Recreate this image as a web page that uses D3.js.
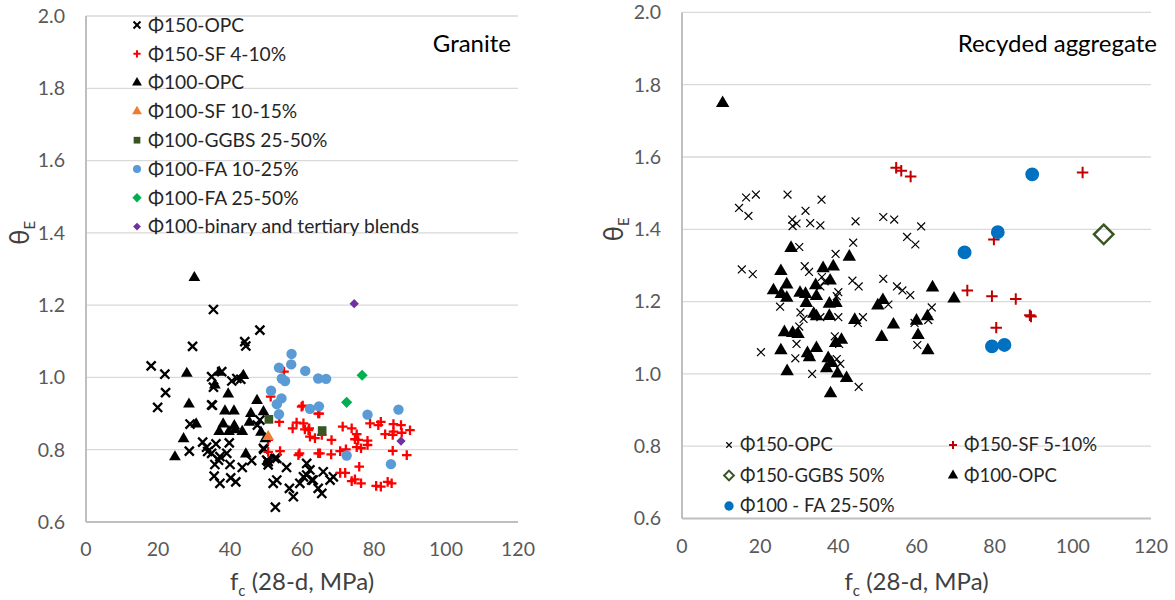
<!DOCTYPE html>
<html>
<head>
<meta charset="utf-8">
<script src="https://cdn.jsdelivr.net/npm/d3@7"></script>
<style>
  body { margin: 0; background: #fff; }
  text { font-family: Lato, "Open Sans", sans-serif; }
</style>
</head>
<body>
<div id="chart"></div>
<script>
// ---- data: [fc, thetaE] ----
var xTicks = [0, 20, 40, 60, 80, 100, 120];
var yTicks = [0.6, 0.8, 1.0, 1.2, 1.4, 1.6, 1.8, 2.0];

// Granite
var gOpc150 = [[35.4,1.188],[48.3,1.131],[29.6,1.086],[44.1,1.099],[44.4,1.087],[18.1,1.032],[21.9,1.009],
  [34.9,1.002],[35.4,0.973],[40.5,0.99],[41.9,0.997],[43,0.995],[37.7,1.016],[22.1,0.958],[19.9,0.917],
  [35.1,0.923],[28.9,0.871],[28.7,0.796],[32.4,0.821],[33.5,0.807],[33.8,0.795],[36.1,0.816],[34.9,0.79],
  [36.8,0.771],[37.2,0.781],[39.1,0.79],[35.8,0.759],[40,0.759],[43.4,0.751],[39.8,0.819],[35.6,0.727],
  [37.2,0.707],[40.2,0.722],[41.6,0.711],[46,0.77],[49.4,0.801],[50.6,0.767],[53,0.776],[55.7,0.751],
  [52.6,0.641],[52,0.707],[53,0.716],[57.6,0.67],[56.5,0.693],[59.4,0.707],[61.3,0.73],[63.1,0.716],
  [62.2,0.744],[61.3,0.762],[60.4,0.725],[62.7,0.716],[65.9,0.739],[65.5,0.679],[67.8,0.716],[68.7,0.725],
  [64.5,0.693],[50.2,0.771],[52.5,0.776],[50.6,0.758],[49.3,0.804],[48.3,0.882],[47.6,0.868],[34.9,0.924]];
var gSf150 = [[55,1.016],[51.3,0.947],[53.7,0.877],[59.9,0.919],[64.5,0.9],[57.4,0.859],[58.5,0.875],
  [60.4,0.873],[62,0.859],[62.2,0.836],[63.6,0.832],[50.6,0.827],[50.6,0.794],[53.9,0.796],[59.3,0.79],
  [64.5,0.79],[60.2,0.922],[64.8,0.9],[60.8,0.856],[61.8,0.854],[65.5,0.841],[68.2,0.827],[71.3,0.864],
  [73.8,0.859],[75.2,0.843],[74.7,0.829],[75.6,0.827],[78.2,0.825],[78.2,0.813],[75.2,0.807],[76.4,0.804],
  [78.9,0.873],[81.2,0.868],[81.9,0.877],[83.1,0.843],[85.4,0.871],[87.5,0.868],[85.4,0.85],[85.2,0.841],
  [87.7,0.847],[90,0.854],[85.2,0.797],[89.1,0.785],[65,0.79],[68.1,0.787],[70.6,0.796],[72.2,0.801],
  [75.9,0.753],[70.6,0.736],[72,0.736],[73.8,0.713],[74.7,0.718],[76.4,0.707],[80.6,0.70],[81.9,0.698],
  [83.8,0.711],[84.9,0.707],[59,0.785]];
var gOpc100 = [[30.1,1.276],[28,1.011],[37,1.014],[43.7,1.005],[35.8,0.979],[39.5,0.954],[28.6,0.926],
  [47.5,0.936],[38.6,0.907],[41.1,0.907],[45.8,0.9],[49.3,0.905],[30.6,0.871],[38.1,0.871],[41.2,0.866],
  [45.4,0.876],[37,0.85],[39.7,0.85],[43.4,0.85],[41.5,0.855],[48.6,0.848],[27.1,0.83],[24.7,0.78],
  [44.4,0.788],[49.8,0.83]];
var gSf100 = [[50.6,0.836]];
var gGgbs100 = [[50.8,0.884],[65.6,0.853]];
var gFa100a = [[57.1,1.065],[53.6,1.027],[57,1.036],[60.9,1.018],[64.5,0.997],[66.7,0.996],[54.4,0.997],
  [55.3,0.99],[51.4,0.963],[54.3,0.942],[53,0.926],[62.2,0.913],[64.7,0.92],[53.6,0.898],[78.2,0.897],
  [86.8,0.911],[72.4,0.784],[84.7,0.76]];
var gFa100b = [[76.7,1.006],[72.4,0.931]];
var gBlend100 = [[74.5,1.204],[87.5,0.824]];

// Recycled aggregate
var rOpc150 = [[14.6,1.459],[16.4,1.488],[18.9,1.496],[17,1.437],[27,1.496],[35.7,1.482],[31.6,1.451],
  [28.2,1.427],[29.3,1.416],[28.3,1.409],[32.8,1.417],[35.4,1.411],[44.4,1.422],[51.5,1.434],[54.3,1.427],
  [61.2,1.408],[57.6,1.379],[59.7,1.358],[43.8,1.363],[30,1.351],[39.3,1.332],[15.3,1.289],[18.1,1.276],
  [31.4,1.298],[32.5,1.282],[35.8,1.268],[36.5,1.256],[35.4,1.242],[43.6,1.258],[45.2,1.242],[51.5,1.263],
  [55,1.242],[56.4,1.231],[58.4,1.218],[63.9,1.184],[63,1.149],[25.1,1.186],[30.3,1.17],[31.1,1.152],
  [30,1.131],[29.3,1.083],[29,1.043],[20.2,1.06],[35.4,1.157],[39.6,1.215],[40,1.226],[40,1.157],
  [45,1.141],[46.3,1.157],[52.8,1.192],[39.1,1.104],[40.2,1.083],[39.6,1.041],[40.5,1.028],[33.3,1.0],
  [45.2,0.964],[60.2,1.08],[59.5,1.141]];
var rSf150 = [[54.8,1.57],[56.1,1.562],[58.5,1.546],[102.5,1.557],[79.8,1.372],[73,1.231],[79.3,1.215],
  [85.4,1.207],[89.3,1.159],[89,1.162],[80.4,1.128]];
var rGgbs150 = [[107.9,1.386]];
var rOpc100 = [[10.4,1.749],[27.9,1.348],[42.8,1.324],[25.3,1.284],[36.1,1.292],[38.7,1.297],[23.4,1.231],
  [26.8,1.247],[25.4,1.221],[26.8,1.21],[30.2,1.224],[31.6,1.221],[34.2,1.245],[34.4,1.215],[37.9,1.258],
  [31.8,1.196],[37.7,1.194],[39.4,1.196],[33.7,1.166],[34.4,1.159],[37.7,1.16],[44.2,1.149],[50.1,1.189],
  [51.4,1.204],[54.1,1.136],[60,1.147],[60.4,1.107],[62.8,1.159],[64.1,1.239],[69.6,1.208],[51.1,1.102],
  [62.9,1.065],[26.2,1.115],[28.3,1.113],[29.7,1.11],[25.3,1.065],[32.1,1.057],[32.6,1.046],[34.4,1.071],
  [39.3,1.085],[40.8,1.094],[37.4,1.043],[38.3,1.03],[37,1.015],[39.8,1.001],[42.1,0.988],[26.9,1.007],
  [38,0.946]];
var rFa100 = [[89.6,1.552],[80.8,1.392],[72.3,1.336],[79.3,1.076],[82.5,1.08]];

var leftNames = ["Φ150-OPC", "Φ150-SF 4-10%", "Φ100-OPC", "Φ100-SF 10-15%", "Φ100-GGBS 25-50%",
  "Φ100-FA 10-25%", "Φ100-FA 25-50%", "Φ100-binary and tertiary blends"];
var rightNames = ["Φ150-OPC", "Φ150-SF 5-10%", "Φ150-GGBS 50%", "Φ100-OPC", "Φ100 - FA 25-50%"];

var svg = d3.select("#chart").append("svg")
    .attr("width", 1175)
    .attr("height", 600);

// style per series: symbol type, size, fill, stroke
function sty(type, size, fill, stroke, sw) {
    return { type: type, size: size, fill: fill, stroke: stroke, sw: sw };
}

var leftSeries = [
    { data: gOpc150, s: sty(d3.symbolTimes, 55, "none", "#000", 2.3) },
    { data: gSf150, s: sty(d3.symbolPlus, 32, "none", "#FF0000", 2.3) },
    { data: gOpc100, s: sty(d3.symbolTriangle, 60, "#000", "none", 0) },
    { data: gSf100, s: sty(d3.symbolTriangle, 60, "#ED7D31", "none", 0) },
    { data: gGgbs100, s: sty(d3.symbolSquare, 75, "#375623", "none", 0) },
    { data: gFa100a, s: sty(d3.symbolCircle, 85, "#5B9BD5", "none", 0) },
    { data: gFa100b, s: sty(d3.symbolDiamond2, 80, "#00B050", "none", 0) },
    { data: gBlend100, s: sty(d3.symbolDiamond2, 55, "#7030A0", "none", 0) }
];

var rightSeries = [
    { data: rOpc150, s: sty(d3.symbolTimes, 42, "none", "#000", 1.2) },
    { data: rSf150, s: sty(d3.symbolPlus, 45, "none", "#C00000", 2) },
    { data: rGgbs150, s: sty(d3.symbolDiamond2, 240, "none", "#375623", 2.5) },
    { data: rOpc100, s: sty(d3.symbolTriangle, 78, "#000", "none", 0) },
    { data: rFa100, s: sty(d3.symbolCircle, 150, "#0070C0", "none", 0) }
];

function drawPanel(opt) {
    var x = d3.scaleLinear().domain([0, 120]).range([opt.x0, opt.x1]);
    var y = d3.scaleLinear().domain([0.6, 2.0]).range([opt.yb, opt.yt]);
    var g = svg.append("g");

    // gridlines
    g.selectAll(".grid")
        .data(yTicks.filter(d => d > 0.6))
        .enter()
        .append("line")
        .attr("x1", opt.x0)
        .attr("x2", opt.x1)
        .attr("y1", d => y(d))
        .attr("y2", d => y(d))
        .attr("stroke", "#d9d9d9")
        .attr("stroke-width", 1.3);

    // axes lines
    g.append("line")
        .attr("x1", opt.x0).attr("x2", opt.x0)
        .attr("y1", y(2.0)).attr("y2", y(0.6))
        .attr("stroke", "#bfbfbf").attr("stroke-width", 2);
    g.append("line")
        .attr("x1", opt.x0).attr("x2", opt.x1)
        .attr("y1", y(0.6)).attr("y2", y(0.6))
        .attr("stroke", "#bfbfbf").attr("stroke-width", 2);

    // tick labels
    g.selectAll(".yl")
        .data(yTicks)
        .enter()
        .append("text")
        .attr("x", opt.x0 - 21)
        .attr("y", d => y(d))
        .attr("dy", "0.35em")
        .attr("text-anchor", "end")
        .attr("font-size", 19.5)
        .attr("fill", "#595959")
        .text(d => d.toFixed(1));

    g.selectAll(".xl")
        .data(xTicks)
        .enter()
        .append("text")
        .attr("x", d => x(d))
        .attr("y", opt.yb + 34)
        .attr("text-anchor", "middle")
        .attr("font-size", 19.5)
        .attr("fill", "#595959")
        .text(d => d);

    // axis titles
    var xt = g.append("text")
        .attr("x", (opt.x0 + opt.x1) / 2)
        .attr("y", 590)
        .attr("text-anchor", "middle")
        .attr("font-size", 24)
        .attr("fill", "#404040");
    xt.append("tspan").text("f");
    xt.append("tspan").attr("font-size", 15).attr("dy", 6).text("c");
    xt.append("tspan").attr("dy", -6).text(" (28-d, MPa)");

    var yt = g.append("text")
        .attr("transform", "translate(" + (opt.x0 - opt.yTitleOff) + "," + (y(1.4)) + ") rotate(-90)")
        .attr("text-anchor", "middle")
        .attr("font-size", 26)
        .attr("fill", "#404040");
    yt.append("tspan").text("θ");
    yt.append("tspan").attr("font-size", 15).attr("dy", 6).text("E");

    // panel title
    g.append("text")
        .attr("x", opt.titleX)
        .attr("y", opt.titleY)
        .attr("text-anchor", "end")
        .attr("font-size", 24)
        .attr("fill", "#000")
        .text(opt.title);

    // points
    opt.series.forEach(function (se) {
        g.append("g").selectAll("path")
            .data(se.data)
            .enter()
            .append("path")
            .attr("transform", d => "translate(" + x(d[0]) + "," + y(d[1]) + ")")
            .attr("d", d3.symbol().type(se.s.type).size(se.s.size))
            .attr("fill", se.s.fill)
            .attr("stroke", se.s.stroke)
            .attr("stroke-width", se.s.sw);
    });

    // legend
    var lg = g.append("g");
    opt.names.forEach(function (name, i) {
        var p = opt.legendPos(i);
        var s = opt.series[i].s;
        lg.append("path")
            .attr("transform", "translate(" + p[0] + "," + p[1] + ")")
            .attr("d", d3.symbol().type(s.type).size(s.size * opt.legScale[i]))
            .attr("fill", s.fill)
            .attr("stroke", s.stroke)
            .attr("stroke-width", Math.min(s.sw, 2));
        lg.append("text")
            .attr("x", p[0] + 11)
            .attr("y", p[1])
            .attr("dy", "0.35em")
            .attr("font-size", opt.legFont)
            .attr("fill", "#262626")
            .text(name);
    });
}

drawPanel({
    x0: 86, x1: 518, yt: 16, yb: 522,
    series: leftSeries, names: leftNames,
    title: "Granite", titleX: 511, titleY: 52,
    yTitleOff: 57, legFont: 19.2,
    legendPos: i => [137, 25 + i * 28.8],
    legScale: [0.6, 0.6, 0.7, 0.7, 0.6, 0.6, 0.7, 0.7]
});

drawPanel({
    x0: 682, x1: 1151, yt: 12.4, yb: 518.5,
    series: rightSeries, names: rightNames,
    title: "Recyded aggregate", titleX: 1157, titleY: 52,
    yTitleOff: 59, legFont: 18.5,
    legendPos: i => [i % 2 == 0 ? 729 : 953, 445 + Math.floor(i / 2) * 30.5],
    legScale: [0.5, 0.5, 0.25, 0.6, 0.45]
});
</script>
</body>
</html>
